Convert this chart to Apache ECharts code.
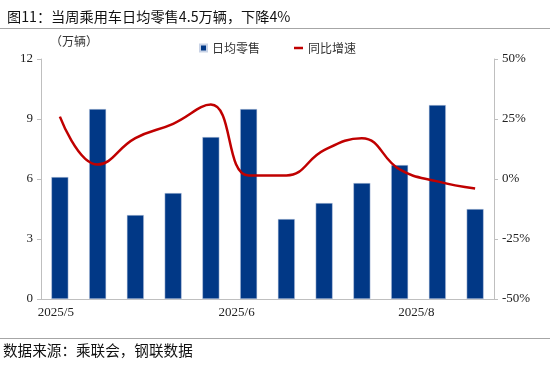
<!DOCTYPE html>
<html><head><meta charset="utf-8">
<script src="https://cdn.jsdelivr.net/npm/echarts@6/dist/echarts.min.js"></script>
<style>html,body{margin:0;padding:0;background:#fff}#c{width:550px;height:367px}</style>
</head><body><div id="c"></div>
<script>
const categories = ['W1','W2','W3','W4','W5','W6','W7','W8','W9','W10','W11','W12'];
const tickLabels = ['2025/5','','','','','2025/6','','','','','2025/8',''];
const dailyRetail = [6.1, 9.5, 4.2, 5.3, 8.1, 9.5, 4.0, 4.8, 5.8, 6.7, 9.7, 4.5];
const yoyGrowth = [26, 6, 17, 23, 31, 1.5, 1.5, 12, 17, 4, -1, -4];
const leftTicks = [0, 3, 6, 9, 12];
const rightTicks = [-50, -25, 0, 25, 50];

const serif = '"Liberation Serif","Times New Roman",serif';
const cjk = '"Noto Sans CJK SC",sans-serif';
const chart = echarts.init(document.getElementById('c'), null, {renderer:'canvas'});
const labelShift = {0:'a', 5:'b', 10:'c'};
chart.setOption({
  animation: false,
  title: {
    text: '图11：当周乘用车日均零售4.5万辆，下降4%',
    left: 2, top: 5,
    textStyle: {fontFamily: cjk, fontSize: 14.2, fontWeight: 'normal', color: '#111'}
  },
  legend: [{
    data: ['日均零售'], left: 194, top: 37, icon: 'rect', itemWidth: 7, itemHeight: 7, itemGap: 6,
    textStyle: {fontFamily: cjk, fontSize: 12, color: '#333'}
  },{
    data: ['同比增速'], left: 289, top: 37, icon: 'rect', itemWidth: 9, itemHeight: 2.5, itemGap: 6,
    textStyle: {fontFamily: cjk, fontSize: 12, color: '#333'}
  }],
  grid: {left: 41, right: 56, top: 59, bottom: 68},
  xAxis: {
    type: 'category', data: categories,
    axisLine: {lineStyle: {color: '#bfbfbf'}},
    axisTick: {show: false},
    axisLabel: {
      interval: 0, margin: 7, color: '#222', fontFamily: serif, fontSize: 13,
      formatter: (v, i) => tickLabels[i] ? '{' + labelShift[i] + '|' + tickLabels[i] + '}' : '',
      rich: {
        a: {fontFamily: serif, fontSize: 13, color: '#222', padding: [0, 8, 0, 0]},
        b: {fontFamily: serif, fontSize: 13, color: '#222', padding: [0, 24, 0, 0]},
        c: {fontFamily: serif, fontSize: 13, color: '#222', padding: [0, 42, 0, 0]}
      }
    }
  },
  yAxis: [{
    type: 'value', min: leftTicks[0], max: leftTicks[leftTicks.length-1], interval: 3,
    axisLine: {show: true, lineStyle: {color: '#bfbfbf'}},
    axisTick: {show: true, length: 4, lineStyle: {color: '#bfbfbf'}},
    splitLine: {show: false},
    axisLabel: {margin: 8, color: '#222', fontFamily: serif, fontSize: 13}
  },{
    type: 'value', min: rightTicks[0], max: rightTicks[rightTicks.length-1], interval: 25,
    axisLine: {show: true, lineStyle: {color: '#bfbfbf'}},
    axisTick: {show: true, length: 4, lineStyle: {color: '#bfbfbf'}},
    splitLine: {show: false},
    axisLabel: {margin: 8, color: '#222', fontFamily: serif, fontSize: 13, formatter: '{value}%'}
  }],
  series: [{
    name: '日均零售', type: 'bar', data: dailyRetail, yAxisIndex: 0, barWidth: '45%',
    itemStyle: {color: '#013886', borderColor: '#c9d3e6', borderWidth: 0.5}
  },{
    name: '同比增速', type: 'line', data: yoyGrowth, yAxisIndex: 1, smooth: 0.45,
    symbol: 'none', lineStyle: {color: '#C00000', width: 2.5}, itemStyle: {color: '#C00000'}, z: 5
  }],
  graphic: [
    {type: 'line', shape: {x1: 0, y1: 28.5, x2: 550, y2: 28.5}, style: {stroke: '#a6a6a6', lineWidth: 1}},
    {type: 'line', shape: {x1: 0, y1: 338.5, x2: 550, y2: 338.5}, style: {stroke: '#a6a6a6', lineWidth: 1}},
    {type: 'text', left: 50, top: 35, style: {text: '（万辆）', font: '12px ' + cjk, fill: '#333'}},
    {type: 'text', left: 3, top: 343, style: {text: '数据来源：乘联会，钢联数据', font: '14.6px ' + cjk, fill: '#111'}}
  ]
});
</script></body></html>
